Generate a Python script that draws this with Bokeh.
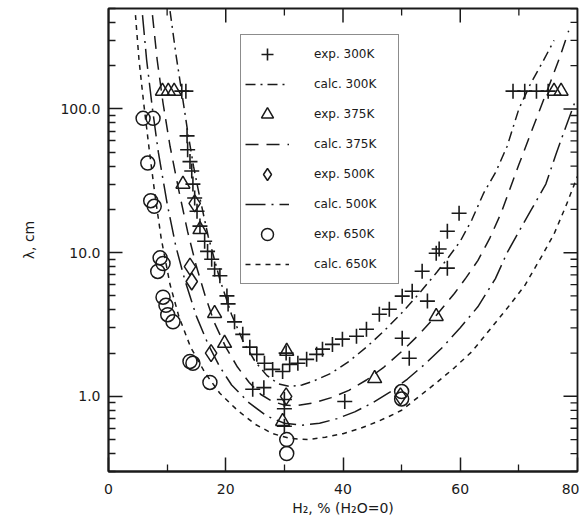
import math
from bokeh.plotting import figure
from bokeh.models import FixedTicker, Legend, LegendItem, Range1d
from bokeh.embed import file_html
from bokeh.resources import INLINE

# ---------------- data ----------------
exp300_x = [12.5, 13.2, 13.4, 13.5, 13.9, 14.2, 14.4, 14.7, 15.1, 15.6, 16.4, 16.9, 17.6, 18.1, 19.0,
            20.2, 20.4, 21.5, 22.9, 24.1, 25.3, 26.6, 28.0, 29.7, 30.9, 32.3,
            33.8, 35.5, 36.5, 38.2, 39.9, 42.3, 44.0, 46.2, 47.9, 50.1, 51.8, 53.5, 54.4, 57.8,
            55.9, 56.4, 57.8, 59.8,
            50.1, 51.3, 40.3, 24.6, 26.5, 30.0, 30.0, 30.0, 30.3,
            69.0, 71.0, 73.0, 75.0]
exp300_y = [133, 133, 65, 52, 43, 37, 30, 24, 19.4, 15.3, 12.0, 10.2, 9.0, 7.7, 6.9,
            5.0, 4.4, 3.3, 2.7, 2.2, 1.96, 1.7, 1.54, 1.49, 1.67, 1.7,
            1.81, 1.96, 2.13, 2.3, 2.5, 2.62, 2.93, 3.73, 4.04, 4.98, 5.39, 7.43, 4.6, 7.8,
            9.9, 10.6, 14.1, 18.8,
            2.54, 1.84, 0.92, 1.12, 1.15, 0.95, 0.82, 0.62, 2.0,
            133, 133, 133, 133]

exp375_x = [9.2, 10.2, 11.2, 12.7, 15.6, 18.1, 19.8, 30.4, 29.7, 45.4, 55.9, 76.0, 77.2]
exp375_y = [133, 133, 133, 30, 14.5, 3.78, 2.34, 2.06, 0.67, 1.33, 3.6, 133, 133]

exp500_x = [14.7, 13.9, 14.2, 17.5, 30.3, 49.8]
exp500_y = [22, 8.0, 6.3, 2.0, 1.0, 1.0]

exp650_x = [5.9, 7.6, 6.7, 7.2, 7.8, 8.8, 9.3, 8.4, 9.3, 9.8, 10.1, 11.0, 13.9, 14.4, 17.3,
            30.4, 30.4, 50.0, 50.0]
exp650_y = [86, 86, 42, 23, 21, 9.2, 8.4, 7.4, 4.9, 4.3, 3.7, 3.3, 1.75, 1.7, 1.25,
            0.5, 0.4, 1.08, 0.96]

calc300_x = [10.5, 11.5, 12.5, 13.5, 14.5, 15.5, 17, 19, 21, 23, 25, 27, 29, 31, 33, 35, 38, 41,
             44, 47, 50, 53, 56, 58, 60, 62, 64, 66, 68, 70, 72, 74, 76]
calc300_y = [480, 240, 130, 70, 40, 25, 13, 6.5, 3.7, 2.4, 1.75, 1.4, 1.22, 1.17, 1.2, 1.28, 1.45, 1.75,
             2.2, 2.85, 3.8, 5.2, 7.3, 9.3, 12, 17, 26, 36, 55, 100, 150, 210, 300]

calc375_x = [7.5, 8.3, 9.3, 10.5, 12, 13.5, 15, 16.5, 18, 20, 22, 24, 26, 28, 30, 32, 35, 38, 41,
             44, 47, 50, 53, 56, 59, 61, 63, 65, 67, 70, 73, 75, 77, 78.5]
calc375_y = [450, 220, 110, 55, 27, 14, 8, 5, 3.3, 2.2, 1.6, 1.25, 1.03, 0.92, 0.87, 0.86, 0.9, 0.98, 1.1,
             1.3, 1.6, 2.05, 2.7, 3.7, 5.2, 6.7, 8.8, 12.5, 19, 41, 86, 140, 230, 350]

calc500_x = [5.8, 6.5, 7.5, 8.5, 10, 11.5, 13, 15, 17, 19, 21, 24, 27, 30, 33, 36, 39, 42, 45, 48,
             51, 54, 57, 60, 63, 66, 68, 70, 72, 74.6, 76.3, 78, 79.5]
calc500_y = [450, 220, 100, 50, 22, 11, 6.5, 3.6, 2.3, 1.6, 1.2, 0.9, 0.73, 0.65, 0.63, 0.65, 0.7, 0.78, 0.9, 1.07,
             1.32, 1.68, 2.2, 3.0, 4.2, 6.6, 10, 14, 19.5, 30, 48, 75, 110]

calc650_x = [4.6, 5.2, 6.0, 7.0, 8.0, 9.0, 10.5, 12, 14, 16.5, 19, 22, 25, 28, 31, 34, 37, 40, 43, 46,
             48, 50, 53, 56, 59, 62, 65, 68, 71, 74, 76, 78, 80]
calc650_y = [450, 220, 110, 50, 24, 12.5, 6, 3.6, 2.2, 1.45, 1.05, 0.8, 0.64, 0.55, 0.51, 0.5, 0.52, 0.55, 0.6, 0.67,
             0.73, 0.8, 1.0, 1.25, 1.58, 2.05, 2.9, 4.1, 5.9, 9.6, 13.5, 21, 34]

x_ticks = [0, 20, 40, 60, 80]
x_minor = [10, 30, 50, 70]
y_ticks = [1, 10, 100]
y_labels = {1: "1.0", 10: "10.0", 100: "100.0"}
y_minor = [0.3, 0.4, 0.5, 0.6, 0.7, 0.8, 0.9, 2, 3, 4, 5, 6, 7, 8, 9,
           20, 30, 40, 50, 60, 70, 80, 90, 200, 300, 400, 500]

labels = ["exp. 300K", "calc. 300K", "exp. 375K", "calc. 375K",
          "exp. 500K", "calc. 500K", "exp. 650K", "calc. 650K"]

x_lo, x_hi = 0, 80
y_lo, y_hi = 0.3, 500

# ---------------- figure ----------------
ink = "#1a1a1a"
FONT = "DejaVu Sans"

p = figure(width=579, height=520, x_range=Range1d(x_lo, x_hi), y_range=Range1d(y_lo, y_hi),
           y_axis_type="log", output_backend="svg", toolbar_location=None,
           min_border_left=108, min_border_right=2, min_border_top=8, min_border_bottom=49)
p.grid.visible = False
p.outline_line_color = ink
p.outline_line_width = 1.8
p.outline_line_alpha = 1.0
p.background_fill_color = "white"

xticker = FixedTicker(ticks=x_ticks, minor_ticks=x_minor)
yticker = FixedTicker(ticks=y_ticks, minor_ticks=y_minor)


def style(ax):
    ax.axis_line_color = ink
    ax.axis_line_width = 1.8
    ax.major_tick_line_color = ink
    ax.minor_tick_line_color = ink
    ax.major_tick_line_width = 1.5
    ax.minor_tick_line_width = 1.3
    ax.major_tick_in = 14
    ax.major_tick_out = 0
    ax.minor_tick_in = 7
    ax.minor_tick_out = 0
    ax.major_label_text_font = FONT
    ax.major_label_text_font_size = "14px"
    ax.major_label_text_color = ink
    ax.axis_label_text_font = FONT
    ax.axis_label_text_font_size = "14px"
    ax.axis_label_text_font_style = "normal"
    ax.axis_label_text_color = ink


xa = p.xaxis[0]
ya = p.yaxis[0]
xa.ticker = xticker
ya.ticker = yticker
style(xa)
style(ya)
ya.major_label_overrides = y_labels
xa.axis_label = "H\u2082, % (H\u2082O=0)"
ya.axis_label = "\u03bb, cm"
xa.major_label_standoff = 12
xa.axis_label_standoff = 3
ya.major_label_standoff = 8
ya.axis_label_standoff = 20

# mirrored ticks on the top and right frame edges
p.ray(x=x_ticks, y=[y_hi] * len(x_ticks), angle=-math.pi / 2, length=14,
      length_units="screen", line_color=ink, line_width=1.5)
p.ray(x=x_minor, y=[y_hi] * len(x_minor), angle=-math.pi / 2, length=7,
      length_units="screen", line_color=ink, line_width=1.3)
p.ray(x=[x_hi] * len(y_ticks), y=y_ticks, angle=math.pi, length=14,
      length_units="screen", line_color=ink, line_width=1.5)
p.ray(x=[x_hi] * len(y_minor), y=y_minor, angle=math.pi, length=7,
      length_units="screen", line_color=ink, line_width=1.3)

lw = 1.5
c300 = p.line(calc300_x, calc300_y, line_color=ink, line_width=lw, line_dash="10 5 2 5")
c375 = p.line(calc375_x, calc375_y, line_color=ink, line_width=lw, line_dash="13 8")
c500 = p.line(calc500_x, calc500_y, line_color=ink, line_width=lw, line_dash="20 6 2 6")
c650 = p.line(calc650_x, calc650_y, line_color=ink, line_width=lw, line_dash="5 5")

e300 = p.scatter(exp300_x, exp300_y, marker="cross", size=15, line_color=ink, line_width=1.6)
e375 = p.scatter(exp375_x, exp375_y, marker="triangle", size=14, line_color=ink,
                 fill_color=None, line_width=1.5)
e500 = p.scatter(exp500_x, exp500_y, marker="diamond", size=17, line_color=ink,
                 fill_color=None, line_width=1.5)
e650 = p.scatter(exp650_x, exp650_y, marker="circle", size=14, line_color=ink,
                 fill_color=None, line_width=1.5)

rens = [e300, c300, e375, c375, e500, c500, e650, c650]
items = [LegendItem(label=l, renderers=[r]) for l, r in zip(labels, rens)]
leg = Legend(items=items, location=(132, 187), orientation="vertical",
             border_line_color=ink, border_line_width=1.5, background_fill_color="white",
             background_fill_alpha=1.0, label_text_font=FONT, label_text_font_size="12px",
             label_text_color=ink, glyph_width=44, glyph_height=30, label_height=30,
             label_standoff=25, label_width=80, padding=4, spacing=0, margin=0)
p.add_layout(leg, "center")

open("out.html", "w").write(file_html(p, INLINE))
